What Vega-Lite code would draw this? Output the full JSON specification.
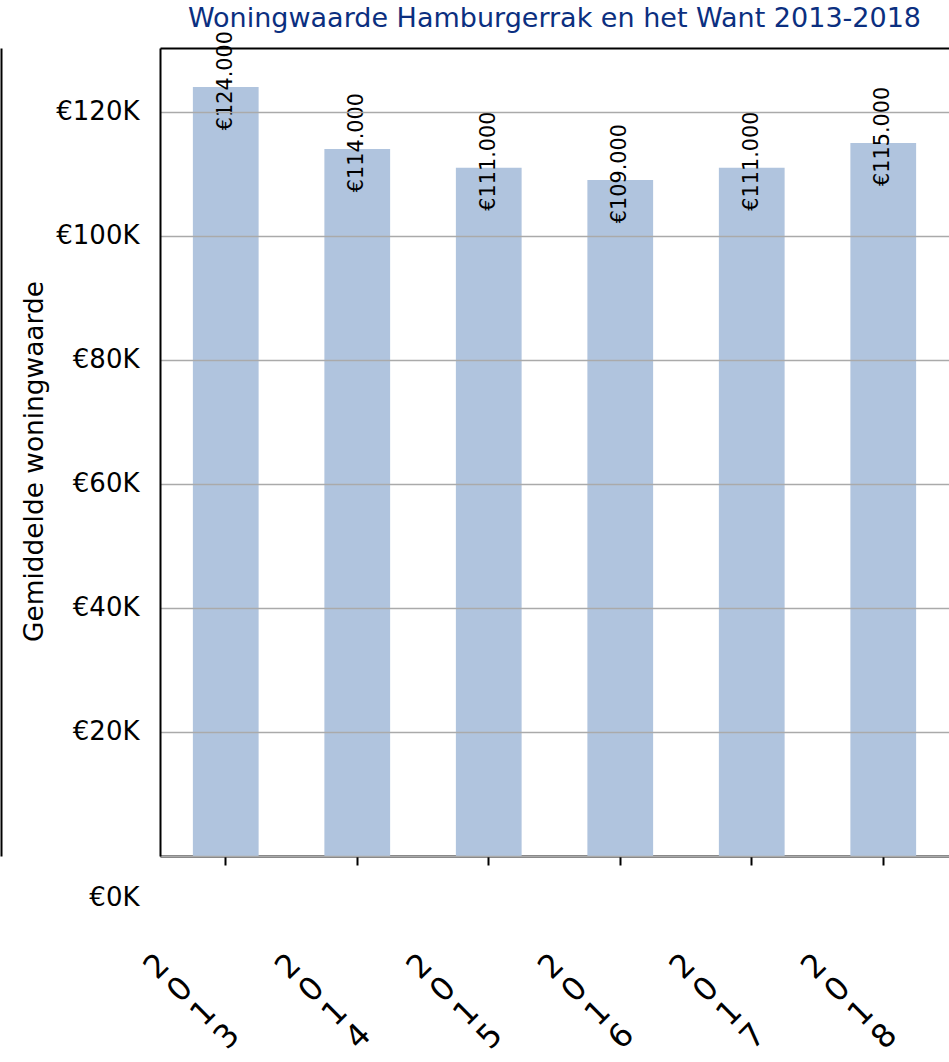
{
  "$schema": "https://vega.github.io/schema/vega-lite/v6.json",
  "autosize": "none",
  "padding": {"left": 160, "top": 48, "right": 0, "bottom": 206},
  "width": 789,
  "height": 808,
  "title": {"text": "Woningwaarde Hamburgerrak en het Want 2013-2018", "anchor": "middle", "fontSize": 27, "fontWeight": "normal", "color": "#0b2f80", "offset": -2},
  "config": {"font": "DejaVu Sans", "view": {"stroke": null}},
  "data": {"values": [
    {"Jaar": "2013", "waarde": 124000},
    {"Jaar": "2014", "waarde": 114000},
    {"Jaar": "2015", "waarde": 111000},
    {"Jaar": "2016", "waarde": 109000},
    {"Jaar": "2017", "waarde": 111000},
    {"Jaar": "2018", "waarde": 115000}
  ]},
  "layer": [
    {
      "mark": {"type": "bar", "color": "#b0c4de"},
      "encoding": {
        "x": {"field": "Jaar", "type": "ordinal", "scale": {"paddingInner": 0.5, "paddingOuter": 0.25},
          "axis": {"orient": "bottom", "title": null, "domainColor": "black", "domainWidth": 2, "tickColor": "black", "tickWidth": 2, "tickSize": 9, "labelAngle": -45, "labelAlign": "center", "labelBaseline": "middle", "labelFontSize": 32, "labelColor": "black", "labelLineHeight": 33, "labelOffset": -69, "labelPadding": 101, "labelExpr": "[slice(datum.label,0,1), slice(datum.label,1,2), slice(datum.label,2,3), slice(datum.label,3,4)]"}},
        "y": {"field": "waarde", "type": "quantitative", "scale": {"domain": [0, 130300], "nice": false, "zero": true},
          "axis": {"orient": "left", "values": [0, 20000, 40000, 60000, 80000, 100000, 120000], "zindex": 1, "grid": true, "gridColor": "#aaaaaa", "gridWidth": 1.5, "ticks": false, "domainColor": "black", "domainWidth": 2, "labelFontSize": 26, "labelColor": "black", "labelPadding": 21, "labelExpr": "'€' + (datum.value / 1000) + 'K'", "labelOffset": {"condition": {"test": "datum.value == 0", "value": 41}, "value": 0}, "title": "Gemiddelde woningwaarde", "titleFontSize": 26.4, "titleFontWeight": "normal", "titleColor": "black", "titleX": -118, "titleY": 413, "titleBaseline": "alphabetic", "titleAlign": "center", "titleAngle": -90}}
      }
    },
    {
      "mark": {"type": "text", "angle": 270, "align": "center", "baseline": "middle", "dx": 6.5, "fontSize": 20.8, "color": "black"},
      "encoding": {
        "x": {"field": "Jaar", "type": "ordinal", "axis": {"orient": "top", "labels": false, "ticks": false, "grid": false, "title": null, "domainColor": "black", "domainWidth": 2}},
        "y": {"field": "waarde", "type": "quantitative", "axis": {"orient": "left", "offset": 159, "labels": false, "ticks": false, "grid": false, "title": null, "domainColor": "black", "domainWidth": 2}},
        "text": {"value": {"expr": "'€' + replace(format(datum.waarde, ','), ',', '.')"}}
      }
    }
  ],
  "resolve": {"axis": {"x": "independent", "y": "independent"}}
}
